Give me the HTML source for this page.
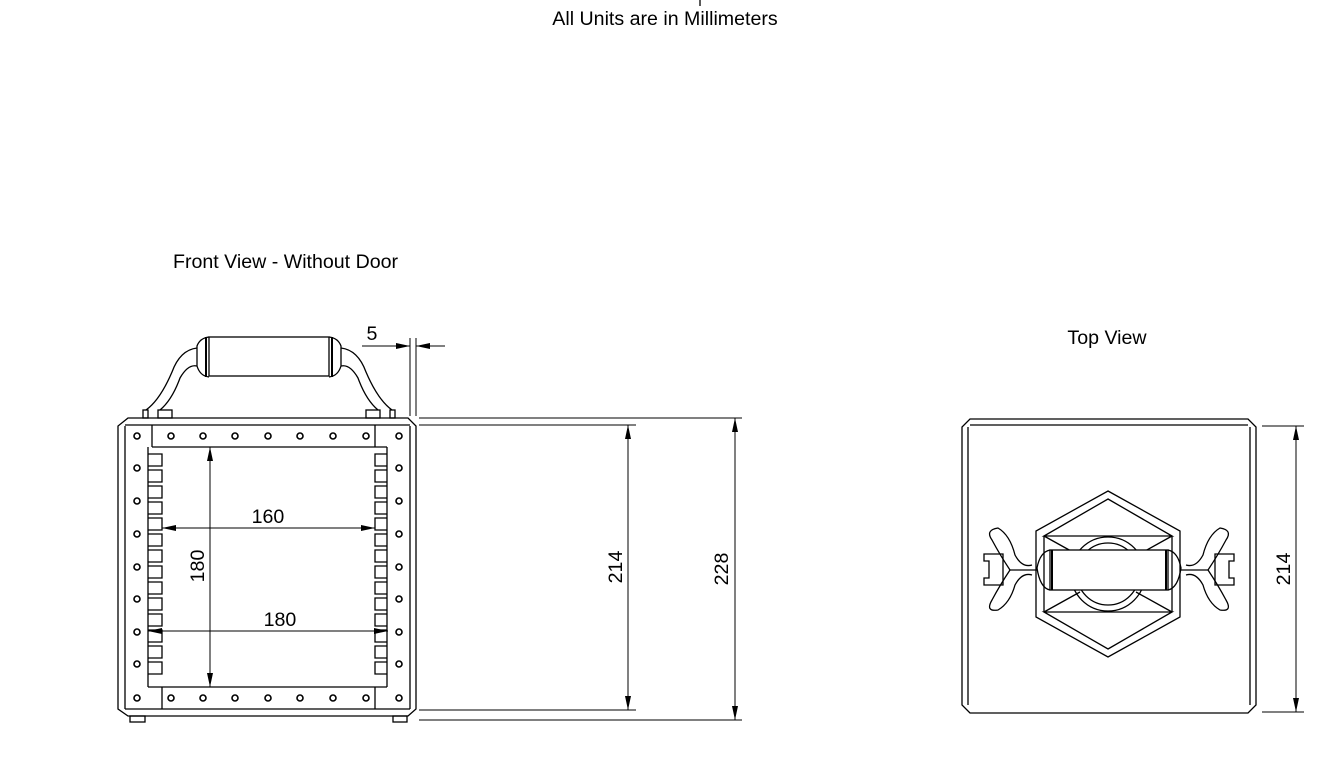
<!DOCTYPE html>
<html><head><meta charset="utf-8"><style>
html,body{margin:0;padding:0;background:#fff;width:1344px;height:761px;overflow:hidden}
svg{display:block}
text{font-family:"Liberation Sans",sans-serif;font-size:19.6px;fill:#000}
</style></head><body>
<svg width="1344" height="761" viewBox="0 0 1344 761" xmlns="http://www.w3.org/2000/svg">
<defs>
<marker id="a" viewBox="0 0 14 6" refX="14" refY="3" markerWidth="14" markerHeight="6" orient="auto-start-reverse" markerUnits="userSpaceOnUse"><path d="M0,0L14,3L0,6z" fill="#000"/></marker>
</defs>
<g stroke="#000" fill="none" stroke-width="1.3">
<line x1="700" y1="0" x2="700" y2="6"/>
<path d="M128,418 H408 L416,426 V709 L408,716 H128 L118,709 V426 Z"/>
<line x1="125" y1="426" x2="125" y2="709"/>
<line x1="410" y1="426" x2="410" y2="709"/>
<line x1="125" y1="425" x2="410" y2="425"/>
<line x1="125" y1="709" x2="410" y2="709"/>
<rect x="130" y="716" width="15" height="6"/>
<rect x="393" y="716" width="14" height="6"/>
<line x1="152" y1="425" x2="152" y2="447"/>
<line x1="152" y1="447" x2="387" y2="447"/>
<line x1="375" y1="425" x2="375" y2="447"/>
<line x1="162" y1="687" x2="162" y2="709"/>
<line x1="148" y1="687" x2="387" y2="687"/>
<line x1="375" y1="687" x2="375" y2="709"/>
<line x1="148" y1="447" x2="148" y2="687"/>
<line x1="387" y1="447" x2="387" y2="687"/>
<path d="M148,454H162V466H148M148,470H162V482H148M148,486H162V498H148M148,502H162V514H148M148,518H162V530H148M148,534H162V546H148M148,550H162V562H148M148,566H162V578H148M148,582H162V594H148M148,598H162V610H148M148,614H162V626H148M148,630H162V642H148M148,646H162V658H148M148,662H162V674H148"/>
<path d="M387,454H375V466H387M387,470H375V482H387M387,486H375V498H387M387,502H375V514H387M387,518H375V530H387M387,534H375V546H387M387,550H375V562H387M387,566H375V578H387M387,582H375V594H387M387,598H375V610H387M387,614H375V626H387M387,630H375V642H387M387,646H375V658H387M387,662H375V674H387"/>
<g stroke-width="1.6">
<circle cx="137" cy="436" r="3"/><circle cx="171" cy="436" r="3"/><circle cx="203" cy="436" r="3"/><circle cx="235" cy="436" r="3"/><circle cx="268" cy="436" r="3"/><circle cx="300" cy="436" r="3"/><circle cx="333" cy="436" r="3"/><circle cx="366" cy="436" r="3"/><circle cx="399" cy="436" r="3"/>
<circle cx="137" cy="698" r="3"/><circle cx="171" cy="698" r="3"/><circle cx="203" cy="698" r="3"/><circle cx="235" cy="698" r="3"/><circle cx="268" cy="698" r="3"/><circle cx="300" cy="698" r="3"/><circle cx="333" cy="698" r="3"/><circle cx="366" cy="698" r="3"/><circle cx="399" cy="698" r="3"/>
<circle cx="137" cy="468" r="3"/><circle cx="137" cy="501" r="3"/><circle cx="137" cy="534" r="3"/><circle cx="137" cy="567" r="3"/><circle cx="137" cy="599" r="3"/><circle cx="137" cy="632" r="3"/><circle cx="137" cy="664" r="3"/>
<circle cx="399" cy="468" r="3"/><circle cx="399" cy="501" r="3"/><circle cx="399" cy="534" r="3"/><circle cx="399" cy="567" r="3"/><circle cx="399" cy="599" r="3"/><circle cx="399" cy="632" r="3"/><circle cx="399" cy="664" r="3"/>
</g>
<rect x="209" y="337" width="120" height="39"/>
<path d="M209,337 Q200,338 197,346 V366 Q200,376 209,377"/>
<path d="M329,337 Q338,338 341,346 V366 Q338,376 329,377"/>
<line x1="206" y1="337" x2="206" y2="377" stroke-width="2"/>
<line x1="332" y1="337" x2="332" y2="377" stroke-width="2"/>
<path d="M197,348 Q180,350 172,372 Q160,400 146,410"/>
<path d="M197,366 Q188,364 180,378 Q172,400 160,410"/>
<path d="M341,348 Q358,350 366,372 Q378,400 392,410"/>
<path d="M341,366 Q350,364 358,378 Q366,400 378,410"/>
<rect x="143" y="410" width="5" height="8"/><rect x="158" y="410" width="14" height="8"/>
<rect x="366" y="410" width="14" height="8"/><rect x="390" y="410" width="5" height="8"/>
<line x1="410" y1="338" x2="410" y2="416" stroke-width="1"/>
<line x1="416" y1="338" x2="416" y2="416" stroke-width="1"/>
<line x1="362" y1="346" x2="410" y2="346" stroke-width="1" marker-end="url(#a)"/>
<line x1="445" y1="346" x2="416" y2="346" stroke-width="1" marker-end="url(#a)"/>
<line x1="419" y1="418" x2="742" y2="418" stroke-width="1"/>
<line x1="419" y1="720" x2="742" y2="720" stroke-width="1"/>
<line x1="419" y1="425" x2="636" y2="425" stroke-width="1"/>
<line x1="419" y1="710" x2="636" y2="710" stroke-width="1"/>
<line x1="628" y1="425" x2="628" y2="710" stroke-width="1" marker-start="url(#a)" marker-end="url(#a)"/>
<line x1="735" y1="418" x2="735" y2="720" stroke-width="1" marker-start="url(#a)" marker-end="url(#a)"/>
<line x1="162" y1="528" x2="375" y2="528" stroke-width="1" marker-start="url(#a)" marker-end="url(#a)"/>
<line x1="148" y1="631" x2="388" y2="631" stroke-width="1" marker-start="url(#a)" marker-end="url(#a)"/>
<line x1="210" y1="447" x2="210" y2="687" stroke-width="1" marker-start="url(#a)" marker-end="url(#a)"/>
<path d="M970,419 H1248 L1256,427 V705 L1248,713 H970 L962,705 V427 Z"/>
<line x1="968" y1="427" x2="968" y2="705"/>
<line x1="1250" y1="427" x2="1250" y2="705"/>
<line x1="970" y1="425" x2="1248" y2="425"/>
<line x1="1262" y1="426" x2="1304" y2="426" stroke-width="1"/>
<line x1="1262" y1="712" x2="1304" y2="712" stroke-width="1"/>
<line x1="1296" y1="426" x2="1296" y2="712" stroke-width="1" marker-start="url(#a)" marker-end="url(#a)"/>
<path d="M1108,491 L1180,531 V617 L1108,657 L1036,617 V531 Z"/>
<path d="M1108,499 L1172,536 H1044 Z"/>
<path d="M1108,649 L1172,612 H1044 Z"/>
<line x1="1044" y1="536" x2="1044" y2="612"/><line x1="1172" y1="536" x2="1172" y2="612"/>
<line x1="1044" y1="536" x2="1080" y2="556"/><line x1="1172" y1="536" x2="1136" y2="556"/>
<line x1="1044" y1="612" x2="1080" y2="592"/><line x1="1172" y1="612" x2="1136" y2="592"/>
<circle cx="1108" cy="574" r="37"/><circle cx="1108" cy="574" r="31"/>
<rect x="1050" y="550" width="118" height="40" fill="#fff"/>
<line x1="1052" y1="550" x2="1052" y2="590" stroke-width="2"/><line x1="1166" y1="550" x2="1166" y2="590" stroke-width="2"/>
<path d="M1050,550 Q1040,552 1037,568 Q1040,588 1050,590"/>
<path d="M1168,550 Q1178,552 1181,568 Q1178,588 1168,590"/>
<line x1="1010" y1="570" x2="1037" y2="570"/><line x1="1181" y1="570" x2="1208" y2="570"/>
<path d="M1010,570 Q1000,555 992,540 Q985,530 998,528 Q1010,535 1015,555 Q1022,568 1032,565"/>
<path d="M1010,570 Q1000,585 992,600 Q985,612 998,610 Q1010,603 1015,585 Q1022,572 1032,575"/>
<path d="M1208,570 Q1218,555 1226,540 Q1233,530 1220,528 Q1208,535 1203,555 Q1196,568 1186,565"/>
<path d="M1208,570 Q1218,585 1226,600 Q1233,612 1220,610 Q1208,603 1203,585 Q1196,572 1186,575"/>
<path d="M984,554 H1003 V585 H984 V578 H989 V561 H984 Z"/>
<path d="M1234,554 H1215 V585 H1234 V578 H1229 V561 H1234 Z"/>
</g>
<text x="665" y="25" text-anchor="middle">All Units are in Millimeters</text>
<text x="173" y="268">Front View - Without Door</text>
<text x="1107" y="344" text-anchor="middle">Top View</text>
<text x="372" y="340" text-anchor="middle">5</text>
<text x="268" y="523" text-anchor="middle">160</text>
<text x="280" y="626" text-anchor="middle">180</text>
<text transform="translate(204,566) rotate(-90)" text-anchor="middle">180</text>
<text transform="translate(622,567) rotate(-90)" text-anchor="middle">214</text>
<text transform="translate(728,569) rotate(-90)" text-anchor="middle">228</text>
<text transform="translate(1290,569) rotate(-90)" text-anchor="middle">214</text>
</svg>
</body></html>
